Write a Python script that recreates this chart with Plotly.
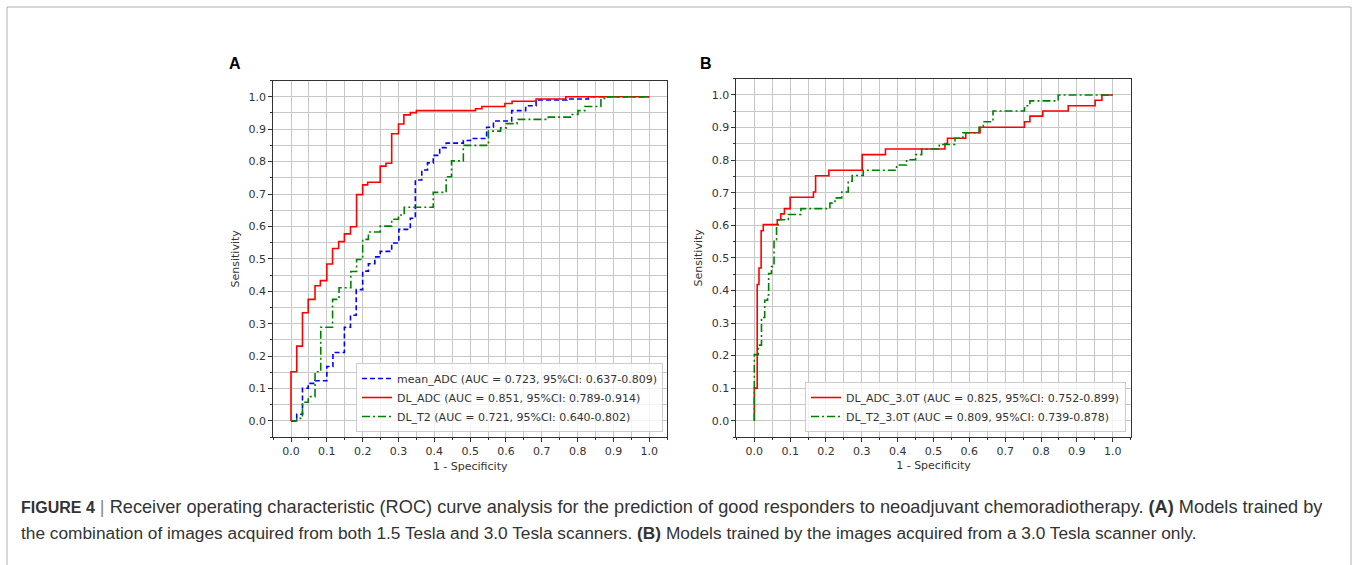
import plotly.graph_objects as go

# -------------------------------------
# DATA (ROC vertices: 1 - specificity, sensitivity)
# -------------------------------------
mean_adc_fpr = [0, 0.016, 0.032, 0.048, 0.067, 0.100, 0.117, 0.149, 0.166, 0.182, 0.200, 0.216,
                0.234, 0.249, 0.281, 0.301, 0.333, 0.347, 0.365, 0.381, 0.397, 0.415, 0.433,
                0.481, 0.501, 0.546, 0.565, 0.616, 0.655, 0.684, 0.770, 0.830, 1.0]
mean_adc_tpr = [0, 0.021, 0.101, 0.116, 0.124, 0.168, 0.211, 0.289, 0.326, 0.405, 0.462, 0.485,
                0.506, 0.523, 0.549, 0.591, 0.625, 0.743, 0.774, 0.796, 0.819, 0.843, 0.857,
                0.865, 0.871, 0.906, 0.925, 0.957, 0.972, 0.990, 0.993, 1.0, 1.0]

dl_adc_fpr = [0, 0, 0.016, 0.032, 0.048, 0.067, 0.082, 0.100, 0.116, 0.133, 0.149, 0.166, 0.183,
              0.200, 0.214, 0.249, 0.265, 0.281, 0.300, 0.315, 0.333, 0.350, 0.515, 0.533, 0.597,
              0.617, 0.684, 0.767, 1.0]
dl_adc_tpr = [0, 0.152, 0.231, 0.334, 0.375, 0.417, 0.433, 0.484, 0.532, 0.553, 0.577, 0.599, 0.698,
              0.728, 0.736, 0.786, 0.795, 0.886, 0.916, 0.944, 0.951, 0.957, 0.963, 0.970, 0.979,
              0.986, 0.993, 1.0, 1.0]

dl_t2_fpr = [0, 0.016, 0.032, 0.048, 0.067, 0.083, 0.116, 0.134, 0.167, 0.183, 0.200, 0.216, 0.249,
             0.281, 0.300, 0.316, 0.397, 0.433, 0.448, 0.481, 0.551, 0.585, 0.601, 0.631, 0.718,
             0.785, 0.801, 0.820, 0.865, 0.883, 1.0]
dl_t2_tpr = [0, 0.008, 0.058, 0.075, 0.152, 0.289, 0.375, 0.411, 0.461, 0.498, 0.560, 0.583, 0.601,
             0.622, 0.635, 0.659, 0.705, 0.753, 0.802, 0.850, 0.894, 0.904, 0.917, 0.930, 0.937,
             0.945, 0.957, 0.970, 0.995, 1.0, 1.0]

adc30_fpr = [0, 0, 0.008, 0.013, 0.019, 0.025, 0.064, 0.074, 0.084, 0.100, 0.165, 0.171, 0.208,
             0.301, 0.366, 0.532, 0.539, 0.590, 0.630, 0.754, 0.769, 0.805, 0.876, 0.951, 0.970, 1.0]
adc30_tpr = [0, 0.100, 0.418, 0.469, 0.583, 0.602, 0.617, 0.635, 0.651, 0.686, 0.702, 0.752, 0.769,
             0.817, 0.834, 0.851, 0.867, 0.884, 0.901, 0.918, 0.935, 0.951, 0.967, 0.984, 1.0, 1.0]

t2_30_fpr = [0, 0, 0.011, 0.020, 0.029, 0.037, 0.040, 0.048, 0.055, 0.062, 0.067, 0.095, 0.130,
             0.211, 0.225, 0.244, 0.262, 0.273, 0.304, 0.397, 0.425, 0.450, 0.467, 0.516, 0.560,
             0.582, 0.627, 0.639, 0.666, 0.754, 0.769, 0.848, 1.0]
t2_30_tpr = [0, 0.203, 0.232, 0.317, 0.370, 0.386, 0.452, 0.473, 0.556, 0.602, 0.617, 0.633, 0.651,
             0.668, 0.684, 0.702, 0.735, 0.753, 0.769, 0.785, 0.801, 0.817, 0.834, 0.848, 0.867,
             0.884, 0.901, 0.918, 0.951, 0.967, 0.982, 1.0, 1.0]

names_a = ["mean_ADC (AUC = 0.723, 95%CI: 0.637-0.809)",
           "DL_ADC (AUC = 0.851, 95%CI: 0.789-0.914)",
           "DL_T2 (AUC = 0.721, 95%CI: 0.640-0.802)"]
names_b = ["DL_ADC_3.0T (AUC = 0.825, 95%CI: 0.752-0.899)",
           "DL_T2_3.0T (AUC = 0.809, 95%CI: 0.739-0.878)"]

tick_vals = [0.0, 0.1, 0.2, 0.3, 0.4, 0.5, 0.6, 0.7, 0.8, 0.9, 1.0]

caption_1 = ("<span style='font-size:16px'><b>FIGURE 4</b></span> <span style='color:#888'>|</span> "
             "Receiver operating characteristic (ROC) "
             "curve analysis for the prediction of good responders to neoadjuvant chemoradiotherapy. "
             "<b>(A)</b> Models trained by")
caption_2 = ("the combination of images acquired from both 1.5 Tesla and 3.0 Tesla scanners. "
             "<b>(B)</b> Models trained by the images acquired from a 3.0 Tesla scanner only.")

# -------------------------------------
# LAYOUT HELPERS
# -------------------------------------
W, H = 1357, 565
FONT = "DejaVu Sans, sans-serif"
CAP_FONT = "Liberation Sans, Arial, sans-serif"


def px(x):
    return x / W


def py(y):
    return 1 - y / H


BLUE, RED, GREEN = "#0000ff", "#ff0000", "#008000"
DASH = "5px,3px"
DASHDOT = "8px,3px,2px,3px"

fig = go.Figure()

# Panel A
fig.add_trace(go.Scatter(x=mean_adc_fpr, y=mean_adc_tpr, name=names_a[0], mode="lines",
                         line=dict(color=BLUE, width=1.6, dash=DASH, shape="hv"),
                         xaxis="x", yaxis="y", legend="legend"))
fig.add_trace(go.Scatter(x=dl_adc_fpr, y=dl_adc_tpr, name=names_a[1], mode="lines",
                         line=dict(color=RED, width=1.6, shape="hv"),
                         xaxis="x", yaxis="y", legend="legend"))
fig.add_trace(go.Scatter(x=dl_t2_fpr, y=dl_t2_tpr, name=names_a[2], mode="lines",
                         line=dict(color=GREEN, width=1.6, dash=DASHDOT, shape="hv"),
                         xaxis="x", yaxis="y", legend="legend"))

# Panel B
fig.add_trace(go.Scatter(x=adc30_fpr, y=adc30_tpr, name=names_b[0], mode="lines",
                         line=dict(color=RED, width=1.6, shape="hv"),
                         xaxis="x2", yaxis="y2", legend="legend2"))
fig.add_trace(go.Scatter(x=t2_30_fpr, y=t2_30_tpr, name=names_b[1], mode="lines",
                         line=dict(color=GREEN, width=1.6, dash=DASHDOT, shape="hv"),
                         xaxis="x2", yaxis="y2", legend="legend2"))

axis_style = dict(
    range=[-0.05, 1.05], tickvals=tick_vals, tickformat=".1f",
    showgrid=True, gridcolor="#c8c8c8", gridwidth=1,
    ticks="outside", ticklen=4, tickcolor="#333", tickwidth=1,
    minor=dict(dtick=0.05, tick0=0, showgrid=True, gridcolor="#c8c8c8", gridwidth=1,
               ticks="outside", ticklen=2, tickcolor="#333"),
    showline=True, linecolor="#333", linewidth=1, mirror=True,
    zeroline=False, tickfont=dict(family=FONT, size=11, color="#333"),
)
title_font = dict(family=FONT, size=11, color="#333")

fig.update_layout(
    width=W, height=H,
    margin=dict(l=0, r=0, t=0, b=0),
    paper_bgcolor="white", plot_bgcolor="white",
    showlegend=True,
    xaxis=dict(axis_style, domain=[px(273.1), px(667.2)], anchor="y",
               title=dict(text="1 - Specificity", font=title_font, standoff=4)),
    yaxis=dict(axis_style, domain=[py(437.2), py(80.5)], anchor="x",
               title=dict(text="Sensitivity", font=title_font, standoff=6)),
    xaxis2=dict(axis_style, domain=[px(736.4), px(1130.6)], anchor="y2",
                title=dict(text="1 - Specificity", font=title_font, standoff=4)),
    yaxis2=dict(axis_style, domain=[py(437.0), py(78.7)], anchor="x2",
                title=dict(text="Sensitivity", font=title_font, standoff=6)),
    legend=dict(x=px(663), y=py(432), xanchor="right", yanchor="bottom",
                bgcolor="rgba(255,255,255,0.8)", bordercolor="#cccccc", borderwidth=1,
                font=dict(family=FONT, size=11, color="#333"), tracegroupgap=0),
    legend2=dict(x=px(1126), y=py(432), xanchor="right", yanchor="bottom",
                 bgcolor="rgba(255,255,255,0.8)", bordercolor="#cccccc", borderwidth=1,
                 font=dict(family=FONT, size=11, color="#333"), tracegroupgap=0),
)

# panel letters and caption
for letter, lx in [("A", 235), ("B", 706)]:
    fig.add_annotation(text=f"<b>{letter}</b>", x=px(lx), y=py(63), xref="paper", yref="paper",
                       xanchor="center", yanchor="middle", showarrow=False,
                       font=dict(family=CAP_FONT, size=16, color="black"))
fig.add_annotation(text=caption_1, x=px(19), y=py(507), xref="paper", yref="paper",
                   xanchor="left", yanchor="middle", showarrow=False, align="left",
                   font=dict(family=CAP_FONT, size=18.2, color="#333"))
fig.add_annotation(text=caption_2, x=px(19), y=py(533), xref="paper", yref="paper",
                   xanchor="left", yanchor="middle", showarrow=False, align="left",
                   font=dict(family=CAP_FONT, size=17.3, color="#333"))

# outer frame of the figure box
fig.add_shape(type="rect", xref="paper", yref="paper", x0=px(7), x1=px(1351), y0=py(575), y1=py(7),
              line=dict(color="#b0b0b0", width=1))

# the page's default 8px body margin would shift the whole figure
fig.write_html("out.html", config={"displayModeBar": False},
               post_script="document.body.style.margin='0';")
